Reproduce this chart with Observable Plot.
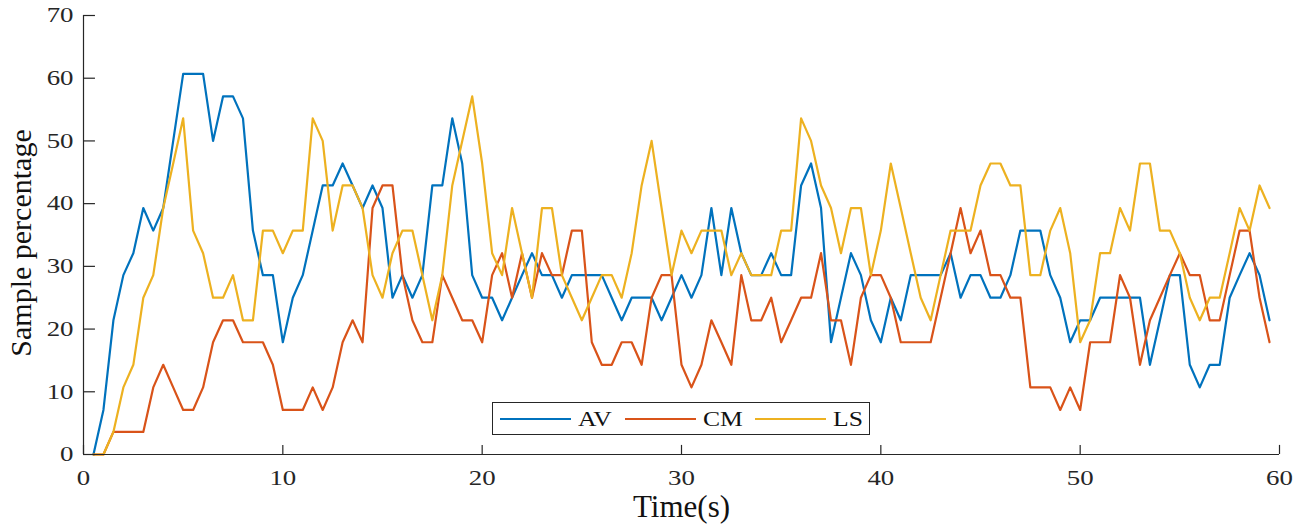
<!DOCTYPE html>
<html><head><meta charset="utf-8">
<script src="https://cdn.jsdelivr.net/npm/d3@7"></script>
<script src="https://cdn.jsdelivr.net/npm/@observablehq/plot@0.6"></script>
<style>
body{margin:0;background:#fff;}
#wrap{position:relative;width:1300px;height:526px;overflow:hidden;}
#wrap svg text{font-family:"Liberation Serif","Times New Roman","DejaVu Serif",serif !important;}
.lgbox{position:absolute;left:492px;top:402px;width:378px;height:33px;border:1px solid #262626;background:#fff;box-sizing:border-box;}
.lgline{position:absolute;height:2px;}
.lgtxt{position:absolute;font-family:"Liberation Serif","Times New Roman",serif;font-size:20px;line-height:20px;color:#111;transform:scaleX(1.28);transform-origin:left center;white-space:nowrap;}
</style>
</head><body><div id="wrap"></div>
<script>
const time = [0.5,1,1.5,2,2.5,3,3.5,4,4.5,5,
5.5,6,6.5,7,7.5,8,8.5,9,9.5,10,
10.5,11,11.5,12,12.5,13,13.5,14,14.5,15,
15.5,16,16.5,17,17.5,18,18.5,19,19.5,20,
20.5,21,21.5,22,22.5,23,23.5,24,24.5,25,
25.5,26,26.5,27,27.5,28,28.5,29,29.5,30,
30.5,31,31.5,32,32.5,33,33.5,34,34.5,35,
35.5,36,36.5,37,37.5,38,38.5,39,39.5,40,
40.5,41,41.5,42,42.5,43,43.5,44,44.5,45,
45.5,46,46.5,47,47.5,48,48.5,49,49.5,50,
50.5,51,51.5,52,52.5,53,53.5,54,54.5,55,
55.5,56,56.5,57,57.5,58,58.5,59,59.5];

const AV = [0,7.1,21.4,28.6,32.1,39.3,35.7,39.3,50,60.7,
60.7,60.7,50,57.1,57.1,53.6,35.7,28.6,28.6,17.9,
25,28.6,35.7,42.9,42.9,46.4,42.9,39.3,42.9,39.3,
25,28.6,25,28.6,42.9,42.9,53.6,46.4,28.6,25,
25,21.4,25,28.6,32.1,28.6,28.6,25,28.6,28.6,
28.6,28.6,25,21.4,25,25,25,21.4,25,28.6,
25,28.6,39.3,28.6,39.3,32.1,28.6,28.6,32.1,28.6,
28.6,42.9,46.4,39.3,17.9,25,32.1,28.6,21.4,17.9,
25,21.4,28.6,28.6,28.6,28.6,32.1,25,28.6,28.6,
25,25,28.6,35.7,35.7,35.7,28.6,25,17.9,21.4,
21.4,25,25,25,25,25,14.3,21.4,28.6,28.6,
14.3,10.7,14.3,14.3,25,28.6,32.1,28.6,21.4];

const CM = [0,0,3.6,3.6,3.6,3.6,10.7,14.3,10.7,7.1,
7.1,10.7,17.9,21.4,21.4,17.9,17.9,17.9,14.3,7.1,
7.1,7.1,10.7,7.1,10.7,17.9,21.4,17.9,39.3,42.9,
42.9,28.6,21.4,17.9,17.9,28.6,25,21.4,21.4,17.9,
28.6,32.1,25,32.1,25,32.1,28.6,28.6,35.7,35.7,
17.9,14.3,14.3,17.9,17.9,14.3,25,28.6,28.6,14.3,
10.7,14.3,21.4,17.9,14.3,28.6,21.4,21.4,25,17.9,
21.4,25,25,32.1,21.4,21.4,14.3,25,28.6,28.6,
25,17.9,17.9,17.9,17.9,25,32.1,39.3,32.1,35.7,
28.6,28.6,25,25,10.7,10.7,10.7,7.1,10.7,7.1,
17.9,17.9,17.9,28.6,25,14.3,21.4,25,28.6,32.1,
28.6,28.6,21.4,21.4,28.6,35.7,35.7,25,17.9];

const LS = [0,0,3.6,10.7,14.3,25,28.6,39.3,46.4,53.6,
35.7,32.1,25,25,28.6,21.4,21.4,35.7,35.7,32.1,
35.7,35.7,53.6,50,35.7,42.9,42.9,39.3,28.6,25,
32.1,35.7,35.7,28.6,21.4,28.6,42.9,50,57.1,46.4,
32.1,28.6,39.3,32.1,25,39.3,39.3,28.6,25,21.4,
25,28.6,28.6,25,32.1,42.9,50,39.3,28.6,35.7,
32.1,35.7,35.7,35.7,28.6,32.1,28.6,28.6,28.6,35.7,
35.7,53.6,50,42.9,39.3,32.1,39.3,39.3,28.6,35.7,
46.4,39.3,32.1,25,21.4,28.6,35.7,35.7,35.7,42.9,
46.4,46.4,42.9,42.9,28.6,28.6,35.7,39.3,32.1,17.9,
21.4,32.1,32.1,39.3,35.7,46.4,46.4,35.7,35.7,32.1,
25,21.4,25,25,32.1,39.3,35.7,42.9,39.3];

const seriesNames = ["AV", "CM", "LS"];
const seriesColors = ["#0072BD", "#D95319", "#EDB120"];
const xTicks = [0, 10, 20, 30, 40, 50, 60];
const yTicks = [0, 10, 20, 30, 40, 50, 60, 70];
const xLabel = "Time(s)";
const yLabel = "Sample percentage";

const rows = [];
[AV, CM, LS].forEach((vals, i) => vals.forEach((v, j) => rows.push({t: time[j], v, s: seriesNames[i]})));

const axisColor = "#262626";
const serif = "Liberation Serif";
const chart = Plot.plot({
  width: 1300, height: 526,
  marginLeft: 83, marginRight: 21, marginTop: 15, marginBottom: 72,
  style: {fontFamily: serif, fontSize: "21px", background: "#fff", color: axisColor, overflow: "visible"},
  x: {domain: [0, 60], ticks: xTicks, label: null},
  y: {domain: [0, 70], ticks: yTicks, label: null},
  color: {domain: seriesNames, range: seriesColors},
  marks: [
    Plot.line(rows, {x: "t", y: "v", z: "s", stroke: "s", strokeWidth: 2.2}),
    Plot.ruleY([0], {stroke: axisColor, strokeWidth: 1.2}),
    Plot.ruleX([0], {stroke: axisColor, strokeWidth: 1.2}),
    Plot.ruleX(xTicks, {x: d => d, y1: 0, y2: 1.45, stroke: axisColor, strokeWidth: 1.2}),
    Plot.ruleY(yTicks, {y: d => d, x1: 0, x2: 0.6, stroke: axisColor, strokeWidth: 1.2}),
    Plot.axisX({ticks: xTicks, tickSize: 0, tickPadding: 16, label: null, fill: axisColor, fontFamily: serif, fontSize: 21}),
    Plot.axisY({ticks: yTicks, tickSize: 0, tickPadding: 10, label: null, fill: axisColor, fontFamily: serif, fontSize: 21}),
    Plot.text([xLabel], {frameAnchor: "bottom", text: d => d, dy: 53, fontSize: 31, fontFamily: serif, lineAnchor: "middle", textAnchor: "middle", fill: "#111"}),
    Plot.text([yLabel], {frameAnchor: "left", text: d => d, dx: -62, dy: 8, rotate: -90, fontSize: 30, fontFamily: serif, lineAnchor: "middle", textAnchor: "middle", fill: "#111"})
  ]
});

const wrap = document.getElementById("wrap");
wrap.appendChild(chart);

d3.select(chart).selectAll('g[aria-label="x-axis tick label"] text, g[aria-label="y-axis tick label"] text')
  .attr("transform", function() { const t = this.getAttribute("transform"); return t ? t + " scale(1.28,1)" : null; });

// legend
const box = document.createElement("div");
box.className = "lgbox";
wrap.appendChild(box);
const lgX = [500, 625, 755];
seriesNames.forEach((name, i) => {
  const ln = document.createElement("div");
  ln.className = "lgline";
  ln.style.left = lgX[i] + "px";
  ln.style.top = "418px";
  ln.style.width = "71px";
  ln.style.background = seriesColors[i];
  wrap.appendChild(ln);
  const tx = document.createElement("div");
  tx.className = "lgtxt";
  tx.textContent = name;
  tx.style.left = (lgX[i] + 78) + "px";
  tx.style.top = "409px";
  wrap.appendChild(tx);
});
</script>
</body></html>
